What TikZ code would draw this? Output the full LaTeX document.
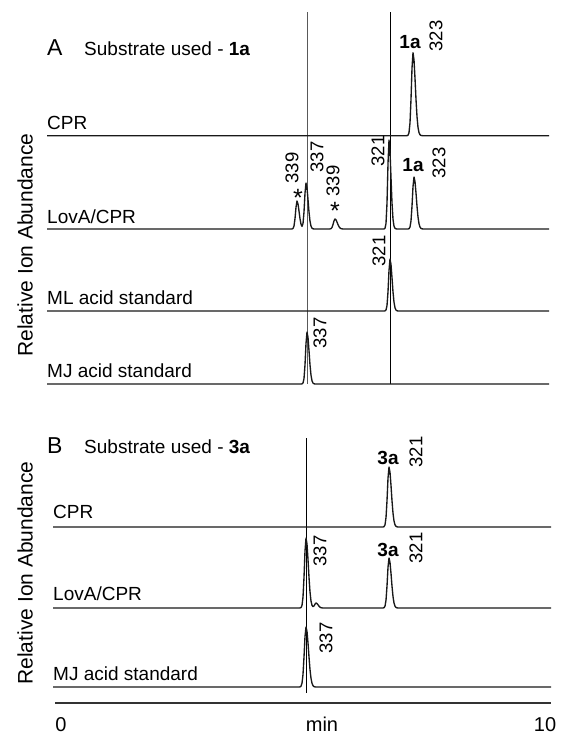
\documentclass[tikz,border=0pt]{standalone}
\usepackage{fontspec}
\setmainfont{Liberation Sans}
\tikzset{declare function={pk(\x,\c,\h,\s)=\h*exp(0-(min(abs(\x-\c)/(\s*(1+0.5*(\x>\c))),3))^2);}}
\tikzstyle{trace} = [line width=1.35pt, draw=black!90, line join=round]
\tikzstyle{rulethin} = [draw=black!65, line width=.6pt]
\tikzstyle{rulethick} = [draw=black, line width=1pt]
\tikzstyle{num} = [rotate=90, inner sep=0pt, font=\fontsize{18.5}{18.5}\selectfont]
\tikzstyle{cmpd} = [inner sep=0pt, font=\fontsize{19}{19}\selectfont\bfseries]
\tikzstyle{sample} = [anchor=base west, inner sep=0pt, font=\fontsize{19}{19}\selectfont]
\tikzstyle{star} = [inner sep=0pt, font=\fontsize{25}{25}\selectfont]
\tikzstyle{panel} = [anchor=base west, inner sep=0pt, font=\fontsize{23}{23}\selectfont]
\tikzstyle{ylab} = [rotate=90, inner sep=0pt, font=\fontsize{21}{21}\selectfont]

\begin{document}
\begin{tikzpicture}[x=1pt, y=-1pt]
    \useasboundingbox (0,0) rectangle (564,736);

    % panel A
    \draw[rulethin] (307,12) -- (307,384);
    \draw[rulethick] (390,12) -- (390,384);
    \node[panel] (pA) at (47,55) {A};
    \node[sample] (tA) at (84,55) {Substrate used - \textbf{1a}};
    \node[ylab] (yA) at (25,245) {Relative Ion Abundance};

    \draw[trace] plot[domain=47:549, samples=503] (\x, {135.7 - pk(\x,413,83,2.2)});
    \draw[trace] plot[domain=47:549, samples=503]
        (\x, {229 - pk(\x,297,28,2) - pk(\x,306,46,2) - pk(\x,335,10,2.2) - pk(\x,389,89,1.8) - pk(\x,414,52,2.2)});
    \draw[trace] plot[domain=47:549, samples=503] (\x, {311 - pk(\x,390,52,2)});
    \draw[trace] plot[domain=47:549, samples=503] (\x, {384 - pk(\x,307,52,2)});

    \foreach \n/\y/\t in {1/129.5/CPR, 2/223/{LovA/CPR}, 3/304.5/ML acid standard, 4/377/MJ acid standard}
    \node[sample] (sA\n) at (47,\y) {\t};
    \foreach \n/\x/\y/\t in {1/436/36/323, 2/292/168/339, 3/317/157/337, 4/333/181/339, 5/378/151/321, 6/439/163/323, 7/379/251/321, 8/320/333/337}
    \node[num] (nA\n) at (\x,\y) {\t};
    \foreach \n/\x/\y in {1/410/42, 2/413/165}
    \node[cmpd] (cA\n) at (\x,\y) {1a};
    \foreach \n/\x/\y in {1/298/198, 2/335/211}
    \node[star] (kA\n) at (\x,\y) {*};

    % panel B
    \draw[rulethick] (306,438) -- (306,693);
    \node[panel] (pB) at (47,453) {B};
    \node[sample] (tB) at (84,453) {Substrate used - \textbf{3a}};
    \node[ylab] (yB) at (25,573) {Relative Ion Abundance};

    \draw[trace] plot[domain=53:551, samples=499] (\x, {527 - pk(\x,389,60,2.2)});
    \draw[trace] plot[domain=53:551, samples=499]
        (\x, {608 - pk(\x,306,70,2.2) - pk(\x,316,5,2) - pk(\x,389,50,2.2)});
    \draw[trace] plot[domain=53:551, samples=499] (\x, {687 - pk(\x,306,60,2.4)});

    \foreach \n/\y/\t in {1/518.5/CPR, 2/600/{LovA/CPR}, 3/680/MJ acid standard}
    \node[sample] (sB\n) at (53,\y) {\t};
    \foreach \n/\x/\y/\t in {1/416/452/321, 2/320/551/337, 3/416/548/321, 4/326/638/337}
    \node[num] (nB\n) at (\x,\y) {\t};
    \foreach \n/\x/\y in {1/388/458, 2/388/550}
    \node[cmpd] (cB\n) at (\x,\y) {3a};

    % time axis
    \draw[line width=1.3pt, draw=black!80] (55,703) -- (551,703);
    \foreach \n/\x/\t in {1/61/0, 2/322/min, 3/545/10}
    \node[inner sep=0pt, anchor=base, font=\fontsize{20}{20}\selectfont] (ax\n) at (\x,731) {\t};
\end{tikzpicture}
\end{document}
